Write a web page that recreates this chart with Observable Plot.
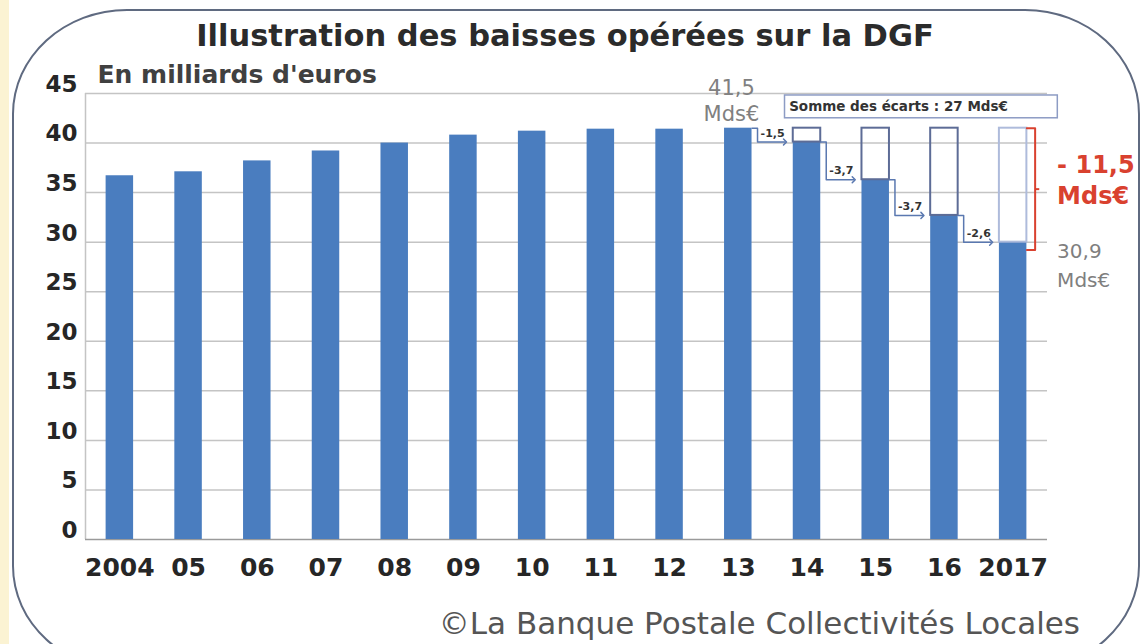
<!DOCTYPE html>
<html><head><meta charset="utf-8">
<script src="https://cdn.jsdelivr.net/npm/d3@7"></script>
<script src="https://cdn.jsdelivr.net/npm/@observablehq/plot@0.6"></script>
<style>
body{margin:0;background:#fff;}
#wrap{position:relative;width:1144px;height:644px;overflow:hidden;background:#fff;font-family:"DejaVu Sans",sans-serif;}
#strip{position:absolute;left:0;top:0;width:9px;height:644px;background:#fbf3d3;}
#frame{position:absolute;left:12px;top:9px;width:1128px;height:662px;border:2px solid #5f6a80;border-radius:115px/105px;box-sizing:border-box;}
#title{position:absolute;left:0;top:18px;width:1130px;text-align:center;font-weight:bold;font-size:30.5px;color:#2b2b2b;white-space:nowrap;}
#chart{position:absolute;left:0;top:60px;}
#caption{position:absolute;right:64px;top:605px;font-size:31px;color:#555;white-space:nowrap;}
</style></head><body>
<div id="wrap"><div id="strip"></div><div id="frame"></div>
<div id="title">Illustration des baisses opérées sur la DGF</div>
<div id="chart"></div>
<div id="caption">©La Banque Postale Collectivités Locales</div></div>
<script>
const years = [2004, 2005, 2006, 2007, 2008, 2009, 2010, 2011, 2012, 2013, 2014, 2015, 2016, 2017];
const yearLabels = ["2004", "05", "06", "07", "08", "09", "10", "11", "12", "13", "14", "15", "16", "2017"];
const dgf = [36.7, 37.1, 38.2, 39.2, 40.0, 40.8, 41.2, 41.4, 41.4, 41.5, 40.1, 36.3, 32.7, 30.0];
const dropYears = [2014, 2015, 2016, 2017];
const dropLabels = ["-1,5", "-3,7", "-3,7", "-2,6"];
const peakYear = 2013;
const peakValue = 41.5;
const peakLabel = ["41,5", "Mds€"];
const finalLabel = ["30,9", "Mds€"];
const totalLabel = ["- 11,5", "Mds€"];
const sumLabel = "Somme des écarts : 27 Mds€";
const unitLabel = "En milliards d'euros";
const yTicks = [0, 5, 10, 15, 20, 25, 30, 35, 40, 45];

const half = 0.2;
const bars = years.map((y, i) => ({year: y, value: dgf[i]}));
const val = y => dgf[years.indexOf(y)];
const lastYear = years[years.length - 1];

const boxes = dropYears.map(y => ({year: y, value: val(y)}));
const conn = [];
dropYears.forEach(y => {
  const p = y - 1, pv = val(p), cv = val(y);
  conn.push({g: y, x: p + half, y: pv});
  conn.push({g: y, x: p + half + 0.08, y: pv});
  conn.push({g: y, x: p + half + 0.08, y: cv});
  conn.push({g: y, x: y - half - 0.12, y: cv});
});
const dropText = dropYears.map((y, i) => ({x: y - 0.5, y: val(y) + 0.9, t: dropLabels[i]}));
const lastVal = val(lastYear);
const bracket = [
  {x: lastYear + half, y: peakValue},
  {x: lastYear + half + 0.12, y: peakValue},
  {x: lastYear + half + 0.12, y: lastVal - 0.8},
  {x: lastYear + half, y: lastVal - 0.8}
];
const midY = (peakValue + lastVal - 0.8) / 2;

const plot = Plot.plot({
  width: 1144,
  height: 545,
  marginLeft: 85,
  marginRight: 97,
  marginTop: 33,
  marginBottom: 66,
  style: {background: "transparent", fontFamily: "DejaVu Sans, sans-serif", overflow: "visible"},
  x: {domain: [years[0] - 0.5, lastYear + 0.5], axis: null},
  y: {domain: [0, 45], axis: null},
  marks: [
    Plot.ruleY(yTicks.filter(d => d > 0), {stroke: "#c4c4c4", strokeWidth: 1.5}),
    Plot.ruleX([years[0] - 0.5], {y1: 0, y2: 45, stroke: "#c4c4c4", strokeWidth: 1.5}),
    Plot.ruleY([0], {stroke: "#9a9a9a", strokeWidth: 1.5}),
    Plot.rectY(bars, {x1: d => d.year - half, x2: d => d.year + half, y: "value", fill: "#4a7dbf"}),
    Plot.rect(boxes, {x1: d => d.year - half, x2: d => d.year + half, y1: "value", y2: peakValue,
      fill: "none", stroke: d => d.year === lastYear ? "#aebbdb" : "#5d6c96", strokeWidth: 2}),
    Plot.line(conn, {x: "x", y: "y", z: "g", stroke: "#5a78b0", strokeWidth: 1.5, markerEnd: "arrow"}),
    Plot.text(dropText, {x: "x", y: "y", text: "t", fontSize: 11, fontWeight: "bold", fill: "#333"}),
    Plot.line(bracket, {x: "x", y: "y", stroke: "#d9412f", strokeWidth: 2}),
    Plot.link([{}], {x1: lastYear + half + 0.12, x2: lastYear + half + 0.18, y1: midY, y2: midY, stroke: "#d9412f", strokeWidth: 2}),
    // y tick labels
    Plot.text(yTicks, {x: years[0] - 0.5, y: d => d, text: d => String(d), textAnchor: "end", dx: -8, dy: -9,
      fontSize: 23, fontWeight: "bold", fill: "#262626"}),
    // x tick labels
    Plot.text(years, {x: d => d, y: 0, text: (d, i) => yearLabels[i], dy: 28,
      fontSize: 25, fontWeight: "bold", fill: "#262626"}),
    // unit label
    Plot.text([unitLabel], {x: years[0] - 0.5, y: 45, text: d => d, textAnchor: "start", dx: 12, dy: -19,
      fontSize: 25, fontWeight: "bold", fill: "#404040"}),
    // peak label
    Plot.text([peakLabel.join("\n")], {x: peakYear - 0.1, y: peakValue, text: d => d, lineAnchor: "bottom",
      dy: -7, lineHeight: 1.25, fontSize: 21, fill: "#808080"}),
    // total drop
    Plot.text([totalLabel.join("\n")], {x: lastYear + 0.64, y: midY, text: d => d, textAnchor: "start",
      fontSize: 24, fontWeight: "bold", fill: "#d9412f", lineHeight: 1.3, dy: -11}),
    // final label
    Plot.text([finalLabel.join("\n")], {x: lastYear + 0.64, y: lastVal, text: d => d, textAnchor: "start",
      fontSize: 20, fill: "#7f7f7f", lineHeight: 1.45, lineAnchor: "top", dy: -5}),
    // sum box
    Plot.rect([sumLabel], {x1: peakYear + 0.68, x2: lastYear + 0.65, y1: 42.5, y2: 44.8,
      fill: "white", stroke: "#8d9cc4", strokeWidth: 1.5}),
    Plot.text([sumLabel], {x: peakYear + 0.74, y: 43.65, text: d => d, textAnchor: "start",
      fontSize: 13.5, fontWeight: "bold", fill: "#333"})
  ]
});
document.getElementById("chart").appendChild(plot);
</script>
</body></html>
